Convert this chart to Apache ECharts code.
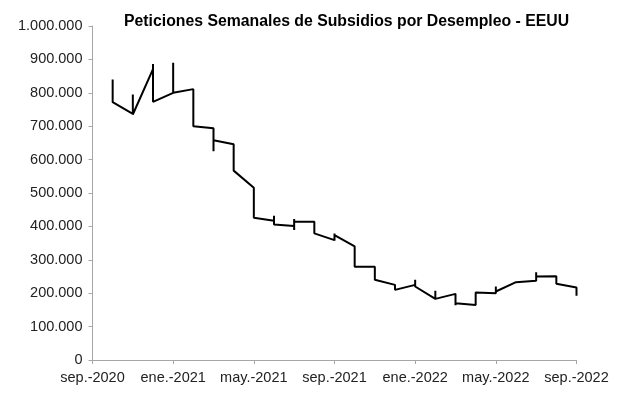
<!DOCTYPE html>
<html>
<head>
<meta charset="utf-8">
<script src="https://cdn.jsdelivr.net/npm/echarts@6/dist/echarts.min.js"></script>
<style>
html,body{margin:0;padding:0;background:#fff;}
#chart{width:617px;height:398px;}
</style>
</head>
<body>
<div id="chart"></div>
<script>
// Month (YYYY-MM) of each weekly observation
const weekMonth = [
  '2020-10','2020-10','2020-10','2020-10',
  '2020-11','2020-11','2020-11','2020-11',
  '2020-12','2020-12','2020-12','2020-12',
  '2021-01','2021-01','2021-01','2021-01','2021-01',
  '2021-02','2021-02','2021-02','2021-02',
  '2021-03','2021-03','2021-03','2021-03',
  '2021-04','2021-04','2021-04','2021-04',
  '2021-05','2021-05','2021-05','2021-05',
  '2021-06','2021-06','2021-06','2021-06',
  '2021-07','2021-07','2021-07','2021-07',
  '2021-08','2021-08','2021-08','2021-08',
  '2021-09','2021-09','2021-09','2021-09',
  '2021-10','2021-10','2021-10','2021-10',
  '2021-11','2021-11','2021-11','2021-11',
  '2021-12','2021-12','2021-12','2021-12',
  '2022-01','2022-01','2022-01','2022-01',
  '2022-02','2022-02','2022-02','2022-02',
  '2022-03','2022-03','2022-03','2022-03',
  '2022-04','2022-04','2022-04','2022-04',
  '2022-05','2022-05','2022-05','2022-05',
  '2022-06','2022-06','2022-06','2022-06',
  '2022-07','2022-07','2022-07','2022-07',
  '2022-08','2022-08','2022-08','2022-08',
  '2022-09','2022-09','2022-09'
];
// Weekly initial jobless claims
const claims = [
  840000, 800000, 785000, 772000,
  737000, 795000, 750000, 735000,
  871000, 886000, 805000, 773000,
  800000, 890000, 850000, 812000, 800000,
  811000, 780000, 745000, 700000,
  694000, 698000, 625000, 658000,
  646000, 610000, 585000, 567000,
  516000, 475000, 445000, 426000,
  417000, 432000, 415000, 406000,
  401000, 422000, 389000, 414000,
  414000, 400000, 385000, 379000,
  359000, 379000, 357000, 374000,
  340000, 300000, 290000, 279000,
  279000, 268000, 250000, 240000,
  225000, 230000, 210000, 210000,
  225000, 240000, 220000, 215000,
  183000, 207000, 190000, 183000,
  198000, 170000, 164000, 170000,
  165000, 180000, 195000, 202000,
  200000, 220000, 205000, 202000,
  233000, 231000, 232000, 233000,
  237000, 263000, 250000, 248000,
  251000, 245000, 235000, 228000,
  217000, 205000, 192000
];
const axisStart = '2020-09';
const tickLabels = ['sep.-2020','ene.-2021','may.-2021','sep.-2021','ene.-2022','may.-2022','sep.-2022'];
const titleText = 'Peticiones Semanales de Subsidios por Desempleo - EEUU';

function monthIndex(s) {
  const [y, m] = s.split('-').map(Number);
  const [y0, m0] = axisStart.split('-').map(Number);
  return (y - y0) * 12 + (m - m0);
}
const seriesData = claims.map((v, i) => [monthIndex(weekMonth[i]), v]);

function fmtThousands(v) {
  return String(Math.round(v)).replace(/\B(?=(\d{3})+(?!\d))/g, '.');
}

const font = "'Liberation Sans', Arial, sans-serif";
const chart = echarts.init(document.getElementById('chart'), null, {renderer: 'canvas'});
chart.setOption({
  animation: false,
  backgroundColor: '#fff',
  title: {
    text: titleText,
    left: 119,
    top: 9,
    textStyle: {fontFamily: font, fontSize: 15.8, fontWeight: 'bold', color: '#000'}
  },
  grid: {left: 92.5, right: 40.5, top: 26, bottom: 38, containLabel: false},
  xAxis: {
    type: 'value',
    min: 0,
    max: 24,
    interval: 4,
    axisLine: {show: true, lineStyle: {color: '#a6a6a6', width: 1}},
    axisTick: {show: true, length: 4, lineStyle: {color: '#a6a6a6'}},
    splitLine: {show: false},
    axisLabel: {
      margin: 10,
      fontFamily: font,
      fontSize: 14.5,
      color: '#222',
      formatter: v => tickLabels[Math.round(v / 4)] || ''
    }
  },
  yAxis: {
    type: 'value',
    min: 0,
    max: 1000000,
    interval: 100000,
    axisLine: {show: true, lineStyle: {color: '#a6a6a6', width: 1}},
    axisTick: {show: true, length: 4, lineStyle: {color: '#a6a6a6'}},
    splitLine: {show: false},
    axisLabel: {
      margin: 10,
      fontFamily: font,
      fontSize: 14.5,
      color: '#222',
      formatter: v => fmtThousands(v)
    }
  },
  series: [{
    type: 'line',
    data: seriesData,
    symbol: 'none',
    lineStyle: {color: '#000', width: 2},
    z: 3
  }]
});
</script>
</body>
</html>
